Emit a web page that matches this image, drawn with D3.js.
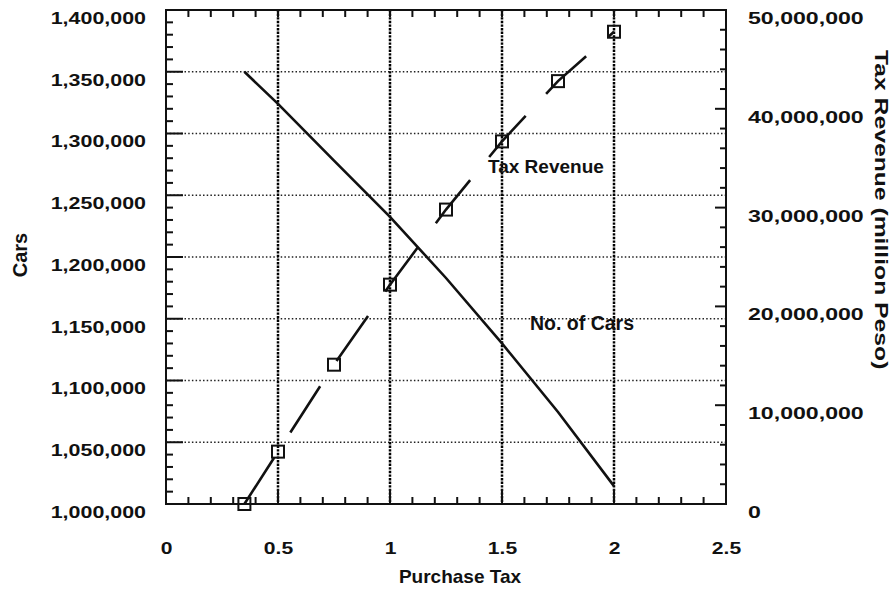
<!DOCTYPE html>
<html>
<head>
<meta charset="utf-8">
<script src="https://cdnjs.cloudflare.com/ajax/libs/d3/7.8.5/d3.min.js"></script>
<style>
  body { margin: 0; background: #fff; }
  svg text { font-family: "Liberation Sans", Arial, sans-serif; font-weight: bold; fill: #111; }
</style>
</head>
<body>
<script>
// Purchase tax rates at which both series were computed
var taxRates = [0.35, 0.5, 0.75, 1, 1.25, 1.5, 1.75, 2];
// Number of cars (left axis)
var cars = [1350000, 1324000, 1278000, 1232500, 1183000, 1130000, 1074500, 1014500];
// Tax revenue (right axis)
var revenue = [0, 5300000, 14100000, 22200000, 29800000, 36700000, 42800000, 47800000];

// Tick labels of the three axes
var xTicks = [0, 0.5, 1, 1.5, 2, 2.5];
var carTicks = [1000000, 1050000, 1100000, 1150000, 1200000, 1250000, 1300000, 1350000, 1400000];
var revTicks = [0, 10000000, 20000000, 30000000, 40000000, 50000000];

var xTitle = "Purchase Tax";
var yTitle = "Cars";
var y2Title = "Tax Revenue (million Peso)";
var revLabel = "Tax Revenue";
var carLabel = "No. of Cars";

var w = 895;
var h = 589;
// plot frame (window.top is taken, so the names get a prefix)
var pLeft = 166, pRight = 726, pTop = 10, pBottom = 504;

var x = d3.scaleLinear().domain([0, 2.5]).range([pLeft, pRight]);
var yCars = d3.scaleLinear().domain([1000000, 1400000]).range([pBottom, pTop]);
var yRev = d3.scaleLinear().domain([0, 50000000]).range([pBottom, pTop]);

var svg = d3.select("body")
  .append("svg")
  .attr("width", w)
  .attr("height", h);

svg.append("rect")
  .attr("width", w)
  .attr("height", h)
  .attr("fill", "#fff");

// stretches text sideways, the original lettering is wide
function widen(sel, k) {
  sel.each(function() {
    var len = this.getComputedTextLength();
    this.setAttribute("textLength", len * k);
    this.setAttribute("lengthAdjust", "spacingAndGlyphs");
  });
}

function isMajor(v, step) {
  return Math.abs(v / step - Math.round(v / step)) < 1e-6;
}

//Horizontal dotted grid at the inner car ticks
svg.selectAll(".hgrid")
  .data(carTicks.slice(1, -1))
  .enter()
  .append("line")
  .attr("x1", pLeft)
  .attr("x2", pRight)
  .attr("y1", function(d) { return yCars(d); })
  .attr("y2", function(d) { return yCars(d); })
  .attr("stroke", "#222")
  .attr("stroke-width", 1.3)
  .attr("stroke-dasharray", "1.5,2.2");

//Vertical dotted grid, heavier than the horizontal one
svg.selectAll(".vgrid")
  .data(xTicks.slice(1, -1))
  .enter()
  .append("line")
  .attr("x1", function(d) { return x(d); })
  .attr("x2", function(d) { return x(d); })
  .attr("y1", pTop)
  .attr("y2", pBottom)
  .attr("stroke", "#000")
  .attr("stroke-width", 2.5)
  .attr("stroke-dasharray", "2.4,1.2");

//Inward ticks on all four sides
var tickG = svg.append("g")
  .attr("stroke", "#111")
  .attr("stroke-width", 2);

x.ticks(25).forEach(function(v) {
  var len = isMajor(v, 0.5) ? 15 : 7;
  tickG.append("line")
    .attr("x1", x(v)).attr("x2", x(v))
    .attr("y1", pBottom).attr("y2", pBottom - len);
  tickG.append("line")
    .attr("x1", x(v)).attr("x2", x(v))
    .attr("y1", pTop).attr("y2", pTop + 7);
});

yCars.ticks(40).forEach(function(v) {
  var len = isMajor(v, 50000) ? 17 : 7;
  tickG.append("line")
    .attr("x1", pLeft).attr("x2", pLeft + len)
    .attr("y1", yCars(v)).attr("y2", yCars(v));
});

yRev.ticks(25).forEach(function(v) {
  var len = isMajor(v, 10000000) ? 11 : 6;
  tickG.append("line")
    .attr("x1", pRight).attr("x2", pRight - len)
    .attr("y1", yRev(v)).attr("y2", yRev(v));
});

//Frame
svg.append("rect")
  .attr("x", pLeft)
  .attr("y", pTop)
  .attr("width", pRight - pLeft)
  .attr("height", pBottom - pTop)
  .attr("fill", "none")
  .attr("stroke", "#111")
  .attr("stroke-width", 2);

//Axis labels, drawn by d3 axes without their own lines
var axL = svg.append("g")
  .attr("transform", "translate(" + pLeft + ",8)")
  .call(d3.axisLeft(yCars).tickValues(carTicks).tickFormat(d3.format(",")).tickSize(0).tickPadding(20));
var axR = svg.append("g")
  .attr("transform", "translate(" + pRight + ",8)")
  .call(d3.axisRight(yRev).tickValues(revTicks).tickFormat(d3.format(",")).tickSize(0).tickPadding(22));
var axB = svg.append("g")
  .attr("transform", "translate(0," + pBottom + ")")
  .call(d3.axisBottom(x).tickValues(xTicks).tickFormat(d3.format("")).tickSize(0).tickPadding(38));

[axL, axR, axB].forEach(function(g) {
  g.select(".domain").remove();
  g.attr("font-size", 17).attr("font-family", null);
});
widen(axL.selectAll("text"), 1.26);
widen(axR.selectAll("text"), 1.36);
widen(axB.selectAll("text"), 1.24);

//Number of cars, solid line
var carLine = d3.line()
  .x(function(d, i) { return x(taxRates[i]); })
  .y(function(d) { return yCars(d); });

svg.append("path")
  .datum(cars)
  .attr("d", carLine)
  .attr("fill", "none")
  .attr("stroke", "#111")
  .attr("stroke-width", 2.6);

//Tax revenue, long dashes with square markers
var revLine = d3.line()
  .x(function(d, i) { return x(taxRates[i]); })
  .y(function(d) { return yRev(d); });

svg.append("path")
  .datum(revenue)
  .attr("d", revLine)
  .attr("fill", "none")
  .attr("stroke", "#111")
  .attr("stroke-width", 2.6)
  .attr("stroke-dasharray", "55,30");

svg.selectAll(".mark")
  .data(revenue)
  .enter()
  .append("rect")
  .attr("x", function(d, i) { return x(taxRates[i]) - 6; })
  .attr("y", function(d) { return yRev(d) - 6; })
  .attr("width", 12)
  .attr("height", 12)
  .attr("fill", "none")
  .attr("stroke", "#111")
  .attr("stroke-width", 2);

//Line labels inside the plot
svg.append("text")
  .text(revLabel)
  .attr("x", x(1.4375))
  .attr("y", yRev(33500000))
  .attr("font-size", 19);

svg.append("text")
  .text(carLabel)
  .attr("x", x(1.625))
  .attr("y", yCars(1141000))
  .attr("font-size", 19.5);

//Axis titles
svg.append("text")
  .text(xTitle)
  .attr("x", 460)
  .attr("y", 583)
  .attr("text-anchor", "middle")
  .attr("font-size", 19);

svg.append("text")
  .text(yTitle)
  .attr("transform", "translate(27,255) rotate(-90)")
  .attr("text-anchor", "middle")
  .attr("font-size", 20);

var t2 = svg.append("text")
  .text(y2Title)
  .attr("transform", "translate(875,50) rotate(90)")
  .attr("text-anchor", "start")
  .attr("font-size", 19);
widen(t2, 1.3);
</script>
</body>
</html>
